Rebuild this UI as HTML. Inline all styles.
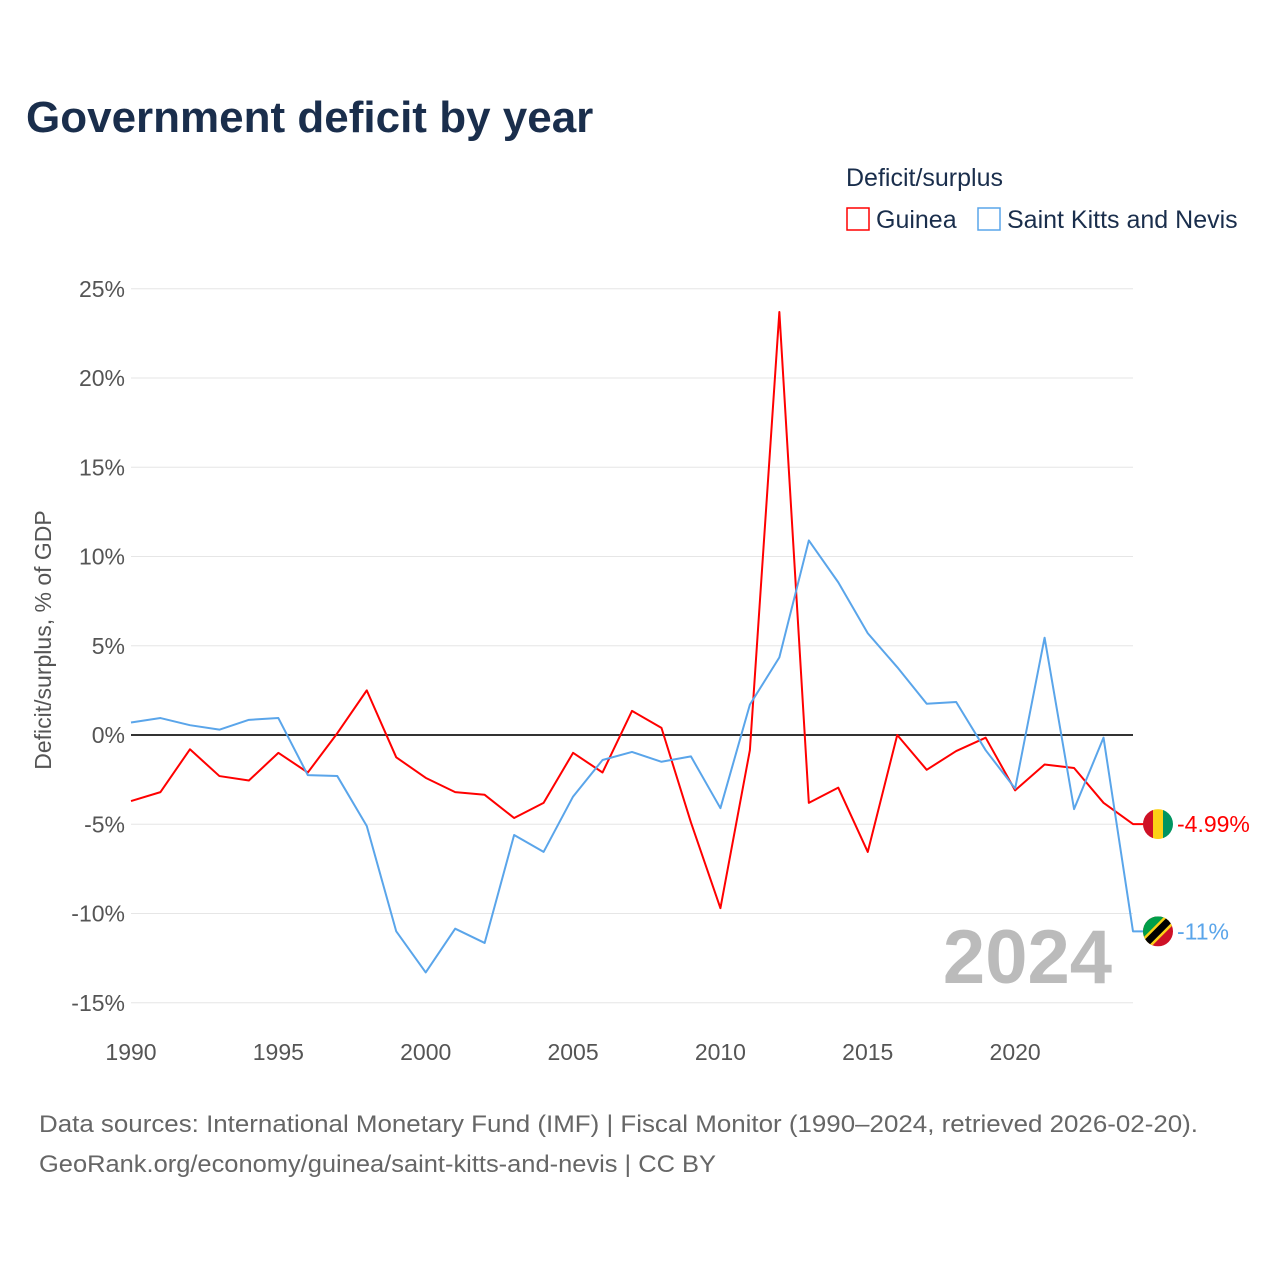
<!DOCTYPE html>
<html><head><meta charset="utf-8"><style>
body{margin:0;background:#fff;font-family:"Liberation Sans",sans-serif;}
</style></head><body>
<svg width="1280" height="1280" viewBox="0 0 1280 1280" xmlns="http://www.w3.org/2000/svg" id="chart">
<rect width="1280" height="1280" fill="#fff"/>
<text x="26" y="132" font-size="44" font-weight="bold" fill="#1a2e4c">Government deficit by year</text>
<text x="846" y="186" font-size="25" fill="#1a2e4c">Deficit/surplus</text>
<g><rect x="847" y="208" width="22" height="22" fill="none" stroke="#f00" stroke-width="1.5"/><text x="876" y="228" font-size="25" fill="#1a2e4c">Guinea</text></g>
<g><rect x="978" y="208" width="22" height="22" fill="none" stroke="#5aa5ea" stroke-width="1.5"/><text x="1007" y="228" font-size="25" fill="#1a2e4c">Saint Kitts and Nevis</text></g>
<g id="grid"></g><g id="xt"></g>
<text transform="translate(51,640) rotate(-90)" text-anchor="middle" font-size="23" fill="#555">Deficit/surplus, % of GDP</text>
<text x="1112" y="983" text-anchor="end" font-size="76" font-weight="bold" fill="#bbb">2024</text>
<g id="lines"></g>
<text x="39" y="1132" font-size="24" fill="#666" textLength="1159" lengthAdjust="spacingAndGlyphs">Data sources: International Monetary Fund (IMF) | Fiscal Monitor (1990–2024, retrieved 2026-02-20).</text>
<text x="39" y="1172" font-size="24" fill="#666" textLength="677" lengthAdjust="spacingAndGlyphs">GeoRank.org/economy/guinea/saint-kitts-and-nevis | CC BY</text>
</svg>
<script>
const years=[];for(let y=1990;y<=2024;y++)years.push(y);
const guinea=[-3.7,-3.2,-0.8,-2.3,-2.55,-1.0,-2.1,0.1,2.5,-1.25,-2.4,-3.2,-3.35,-4.65,-3.8,-1.0,-2.1,1.35,0.4,-4.9,-9.7,-0.85,23.7,-3.8,-2.95,-6.55,0.0,-1.95,-0.9,-0.15,-3.1,-1.65,-1.85,-3.8,-4.99];
const skn=[0.7,0.95,0.55,0.3,0.85,0.95,-2.25,-2.3,-5.1,-11.0,-13.3,-10.85,-11.65,-5.6,-6.55,-3.45,-1.4,-0.95,-1.5,-1.2,-4.1,1.7,4.35,10.9,8.55,5.7,3.8,1.75,1.85,-0.85,-3.0,5.45,-4.15,-0.15,-11];
const yTicks=[25,20,15,10,5,0,-5,-10,-15];
const xTicks=[1990,1995,2000,2005,2010,2015,2020];
const ns="http://www.w3.org/2000/svg";
const X=y=>131+(y-1990)*(1133-131)/34;
const Y=v=>735-v*17.85;
function mk(t,a,p){const e=document.createElementNS(ns,t);for(const k in a)e.setAttribute(k,a[k]);p.appendChild(e);return e;}
const grid=document.getElementById('grid');
yTicks.forEach(v=>{
 const l=mk('line',{x1:131,x2:1133,y1:Y(v),y2:Y(v),stroke:v==0?'#333':'#e6e6e6','stroke-width':v==0?2:1},grid);
 
 
 const t=mk('text',{x:125,y:Y(v)+8,'text-anchor':'end','font-size':23,fill:'#555'},grid);t.textContent=v+'%';
 
 
});
const xt=document.getElementById('xt');
xTicks.forEach(v=>{const t=mk('text',{x:X(v),y:1060,'text-anchor':'middle','font-size':23,fill:'#555'},xt);t.textContent=v;
 
 });
const lines=document.getElementById('lines');
function series(d,c,name,lab,flag){
 let p=d.map((v,i)=>X(years[i])+','+Y(v)).join(' ')+' '+(X(2024)+14)+','+Y(d[d.length-1]);
 const pl=mk('polyline',{points:p,fill:'none',stroke:c,'stroke-width':2,'stroke-linejoin':'round'},lines);
 
 
 const cy=Y(d[d.length-1]);
 const g=mk('g',{},lines);
 
 
 g.innerHTML=flag(1158,cy);
 const t=mk('text',{x:1177,y:cy+8,'font-size':23,fill:c},lines);t.textContent=lab;
 
 
}
series(guinea,'#f00','guinea','-4.99%',(x,y)=>`<clipPath id="cg"><circle cx="${x}" cy="${y}" r="15"/></clipPath><g clip-path="url(#cg)"><rect x="${x-15}" y="${y-15}" width="10" height="30" fill="#ce1126"/><rect x="${x-5}" y="${y-15}" width="10" height="30" fill="#fcd116"/><rect x="${x+5}" y="${y-15}" width="10" height="30" fill="#009460"/></g>`);
series(skn,'#5aa5ea','skn','-11%',(x,y)=>`<clipPath id="cs"><circle cx="${x}" cy="${y}" r="15"/></clipPath><g clip-path="url(#cs)"><rect x="${x-15}" y="${y-15}" width="30" height="30" fill="#ce1126"/><polygon points="${x-15},${y-15} ${x+15},${y-15} ${x-15},${y+15}" fill="#009e49"/><line x1="${x-17}" y1="${y+17}" x2="${x+17}" y2="${y-17}" stroke="#fcd116" stroke-width="12"/><line x1="${x-17}" y1="${y+17}" x2="${x+17}" y2="${y-17}" stroke="#000" stroke-width="7"/></g>`);
</script>
</body></html>
